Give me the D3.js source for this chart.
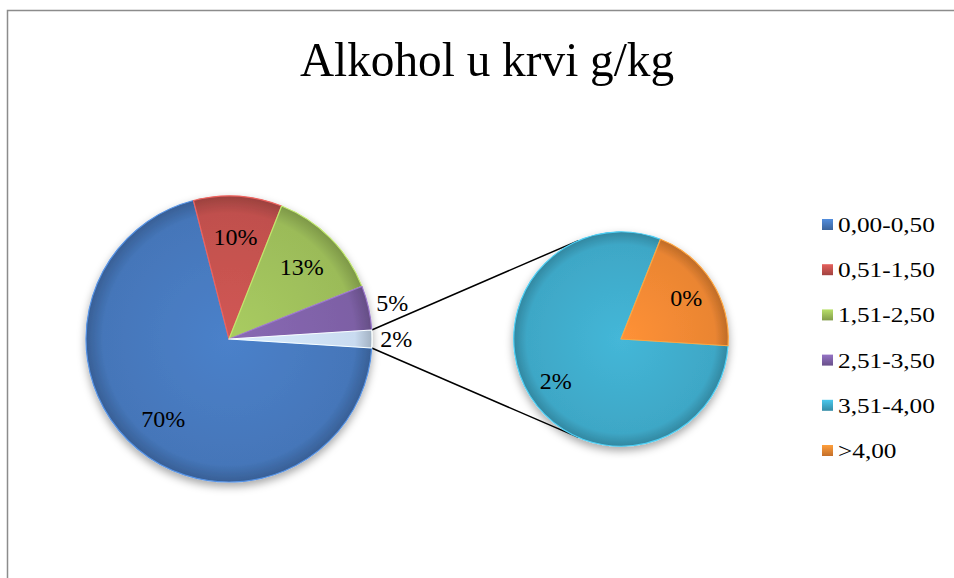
<!DOCTYPE html>
<html>
<head>
<meta charset="utf-8">
<script src="https://cdn.jsdelivr.net/npm/d3@7"></script>
<style>
  body { margin: 0; background: #fff; }
  svg { display: block; font-family: "Liberation Serif", "Times New Roman", serif; }
</style>
</head>
<body>
<div id="chart"></div>
<script>
// data
const title = "Alkohol u krvi g/kg";
const categories = ["0,00-0,50", "0,51-1,50", "1,51-2,50", "2,51-3,50", "3,51-4,00", ">4,00"];
const values = [70, 10, 13, 5, 1.6, 0.4];
const colors = ["#4576b9", "#c0504d", "#9bbb59", "#7d60a5", "#3ea7c6", "#ea8532"];
const otherColor = "#c9dbf0";
const splitIndex = 4; // od ovog indeksa ide u drugi pie

const width = 954, height = 578;

// main pie: first values + "other"
const mainValues = values.slice(0, splitIndex);
const secondValues = values.slice(splitIndex);
const otherValue = d3.sum(secondValues);
const mainData = mainValues.map((v, i) => ({ value: v, color: colors[i] }))
  .concat([{ value: otherValue, color: otherColor, other: true }]);
const secondData = secondValues.map((v, i) => ({ value: v, color: colors[splitIndex + i] }));

const main = { cx: 229, cy: 339, r: 143 };
const second = { cx: 621, cy: 339, r: main.r * 0.75 };

const svg = d3.select("#chart").append("svg")
  .attr("width", width)
  .attr("height", height);

const defs = svg.append("defs");

// sjena ispod pie-a
const shadow = defs.append("filter").attr("id", "shadow")
  .attr("x", "-20%").attr("y", "-20%").attr("width", "140%").attr("height", "140%");
shadow.append("feDropShadow")
  .attr("dx", 0).attr("dy", 4).attr("stdDeviation", 4)
  .attr("flood-color", "#000").attr("flood-opacity", 0.35);

function radialFor(id, color, r) {
  const g = defs.append("radialGradient").attr("id", id)
    .attr("gradientUnits", "userSpaceOnUse")
    .attr("cx", 0).attr("cy", 0).attr("r", r);
  const c = d3.color(color);
  g.append("stop").attr("offset", "0%").attr("stop-color", c.brighter(0.25));
  g.append("stop").attr("offset", "88%").attr("stop-color", c);
  g.append("stop").attr("offset", "100%").attr("stop-color", c.darker(0.6));
  return `url(#${id})`;
}

// frame
svg.append("rect")
  .attr("x", 7.5).attr("y", 10.5)
  .attr("width", width + 20).attr("height", height + 20)
  .attr("fill", "none")
  .attr("stroke", "#8c8c8c")
  .attr("stroke-width", 1.5);

// title
svg.append("text")
  .attr("transform", "translate(487,76) scale(0.965,1)")
  .attr("text-anchor", "middle")
  .style("font-size", "49px")
  .attr("fill", "#000")
  .text(title);

// start angle: "other" centred on 3 o'clock
const mainStart = Math.PI / 2 + Math.PI * otherValue / d3.sum(mainData, d => d.value);
const pieMain = d3.pie().sort(null).value(d => d.value)
  .startAngle(mainStart).endAngle(mainStart + 2 * Math.PI);
const pieSecond = d3.pie().sort(null).value(d => d.value)
  .startAngle(mainStart).endAngle(mainStart + 2 * Math.PI);

const fmt = v => Math.round(v) + "%";

function drawPie(cfg, arcs, prefix) {
  const g = svg.append("g")
    .attr("transform", `translate(${cfg.cx},${cfg.cy})`);
  const arc = d3.arc().innerRadius(0).outerRadius(cfg.r);
  g.append("g").attr("filter", "url(#shadow)")
    .selectAll("path")
    .data(arcs)
    .join("path")
      .attr("d", arc)
      .attr("fill", (d, i) => radialFor(prefix + i, d.data.color, cfg.r))
      .attr("stroke", (d) => d3.color(d.data.color).brighter(0.6))
      .attr("stroke-width", 1.2)
      .attr("stroke-linejoin", "round");

  // labels
  g.selectAll("text")
    .data(arcs)
    .join("text")
      .attr("transform", d => {
        const mid = (d.startAngle + d.endAngle) / 2;
        const frac = (d.endAngle - d.startAngle) / (2 * Math.PI);
        const k = (frac < 0.06 && prefix === "m") ? 1.17 : 0.72;
        return `translate(${Math.sin(mid) * cfg.r * k},${-Math.cos(mid) * cfg.r * k})`;
      })
      .attr("text-anchor", "middle")
      .attr("dy", "0.35em")
      .style("font-size", "24px")
      .attr("fill", "#000")
      .text(d => fmt(d.data.value));
  return g;
}

const mainArcs = pieMain(mainData);
const secondArcs = pieSecond(secondData);

// connector lines: from the edges of the "other" slice, tangent to the second pie
const otherArc = mainArcs[mainArcs.length - 1];
[otherArc.startAngle, otherArc.endAngle].forEach((a, idx) => {
  const px = main.cx + Math.sin(a) * main.r;
  const py = main.cy - Math.cos(a) * main.r;
  const dx = px - second.cx, dy = py - second.cy;
  const d = Math.hypot(dx, dy);
  const base = Math.atan2(dy, dx);
  const off = Math.acos(second.r / d);
  const t = idx === 0 ? base + off : base - off;
  svg.append("line")
    .attr("x1", px).attr("y1", py)
    .attr("x2", second.cx + Math.cos(t) * second.r)
    .attr("y2", second.cy + Math.sin(t) * second.r)
    .attr("stroke", "#000")
    .attr("stroke-width", 1.5);
});

drawPie(main, mainArcs, "m");
drawPie(second, secondArcs, "s");

// legend
const legend = svg.append("g").attr("transform", "translate(822,0)");
const rowY = d3.scalePoint().domain(categories).range([232, 458]);
categories.forEach((c, i) => {
  const row = legend.append("g").attr("transform", `translate(0,${rowY(c)})`);
  const lg = defs.append("linearGradient").attr("id", "lg" + i)
    .attr("x1", 0).attr("y1", 0).attr("x2", 0).attr("y2", 1);
  const col = d3.color(colors[i]);
  lg.append("stop").attr("offset", "0%").attr("stop-color", col.brighter(0.5));
  lg.append("stop").attr("offset", "100%").attr("stop-color", col.darker(0.5));
  row.append("rect")
    .attr("x", 0).attr("y", -13)
    .attr("width", 11).attr("height", 11)
    .attr("fill", `url(#lg${i})`);
  row.append("text")
    .attr("transform", "translate(16,0) scale(1.15,1)")
    .style("font-size", "22px")
    .attr("fill", "#000")
    .text(c);
});
</script>
</body>
</html>
